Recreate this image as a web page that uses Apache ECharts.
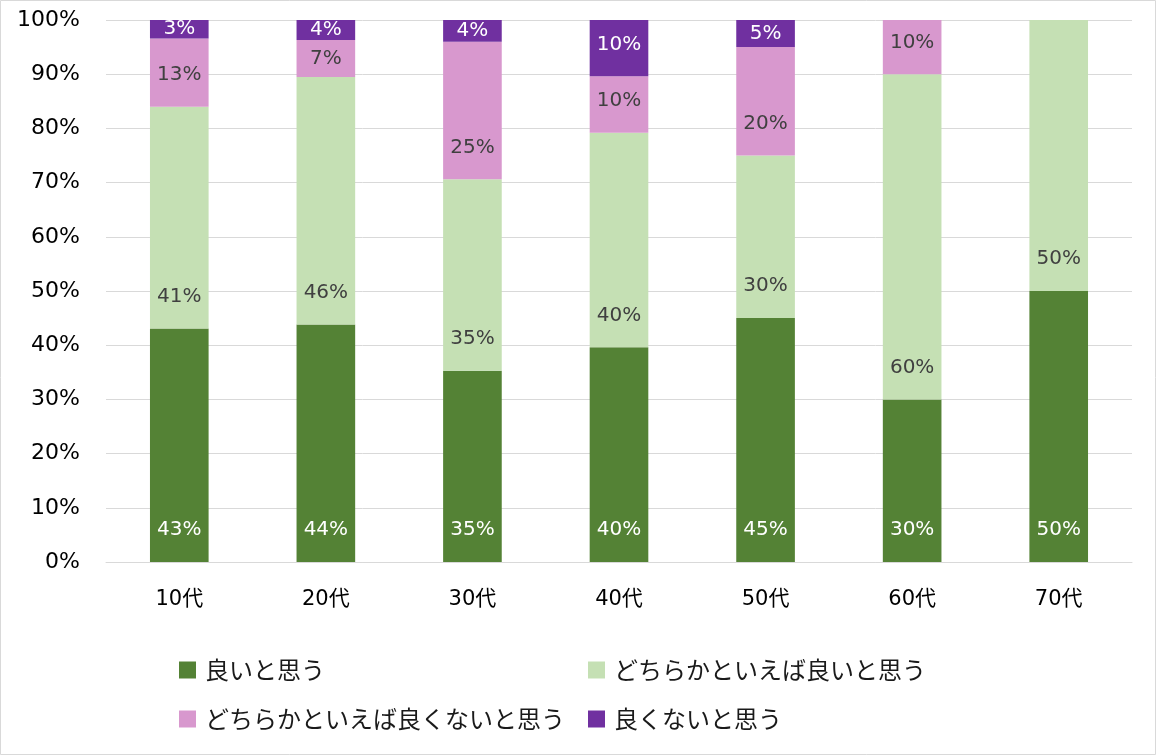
<!DOCTYPE html>
<html>
<head>
<meta charset="utf-8">
<script src="https://cdn.jsdelivr.net/npm/echarts@6/dist/echarts.min.js"></script>
<style>
html,body{margin:0;padding:0;background:#fff;}
#c{width:1156px;height:755px;}
</style>
</head>
<body>
<div id="c"></div>
<script>
// ---- data ----
const categories = ['10代', '20代', '30代', '40代', '50代', '60代', '70代'];
const seriesNames = ['良いと思う', 'どちらかといえば良いと思う', 'どちらかといえば良くないと思う', '良くないと思う'];
const good = [43.1, 43.8, 35.3, 39.6, 45, 30, 50];
const ratherGood = [40.9, 45.7, 35.3, 39.6, 30, 60, 50];
const ratherNotGood = [12.6, 6.8, 25.4, 10.4, 20, 10, 0];
const notGood = [3.4, 3.7, 4.0, 10.4, 5, 0, 0];

// ---- styles ----
const colors = ['#548235', '#C5E0B4', '#D898CE', '#7030A0'];
const labelColors = ['#ffffff', '#404040', '#404040', '#ffffff'];
const latin = '"DejaVu Sans", "Noto Sans CJK JP", sans-serif';
const cjk = '"Noto Sans CJK JP", "DejaVu Sans", sans-serif';

const gridTop = 20, gridBottom = 193;
const plotH = 755 - gridTop - gridBottom;
const pxPerUnit = plotH / 100;
const LH = 22;

function items(arr) {
  return arr.map(v => {
    const h = v * pxPerUnit;
    const c = Math.min(32, Math.max(h / 2, h - 23));
    return { value: v, label: { distance: c - LH / 2 } };
  });
}

const allData = [good, ratherGood, ratherNotGood, notGood];

const legendText = { fontFamily: cjk, fontSize: 24, color: '#1a1a1a', lineHeight: 26, padding: [0, 0, 0, 4] };

const chart = echarts.init(document.getElementById('c'), null, { renderer: 'canvas' });
chart.setOption({
  animation: false,
  backgroundColor: '#fff',
  graphic: [{
    type: 'rect',
    shape: { x: 0.5, y: 0.5, width: 1155, height: 754 },
    style: { fill: 'none', stroke: '#d9d9d9', lineWidth: 1 },
    silent: true
  }],
  grid: { left: 106, right: 24, top: gridTop, bottom: gridBottom, containLabel: false },
  legend: [
    {
      data: [seriesNames[0], seriesNames[2]],
      orient: 'vertical', left: 179, top: 657, padding: 0,
      itemWidth: 17, itemHeight: 17, itemGap: 23, icon: 'rect',
      textStyle: legendText
    },
    {
      data: [seriesNames[1], seriesNames[3]],
      orient: 'vertical', left: 588, top: 657, padding: 0,
      itemWidth: 17, itemHeight: 17, itemGap: 23, icon: 'rect',
      textStyle: legendText
    }
  ],
  xAxis: {
    type: 'category',
    data: categories,
    axisLine: { show: true, lineStyle: { color: '#d9d9d9', width: 1 } },
    axisTick: { show: false },
    axisLabel: { fontFamily: latin, fontSize: 21, color: '#000', margin: 27 }
  },
  yAxis: {
    type: 'value',
    min: 0, max: 100, interval: 10,
    axisLine: { show: false },
    axisTick: { show: false },
    splitLine: { lineStyle: { color: '#d9d9d9', width: 1 } },
    axisLabel: { fontFamily: latin, fontSize: 22, color: '#000', margin: 26, formatter: '{value}%' }
  },
  series: allData.map((arr, i) => ({
    name: seriesNames[i],
    type: 'bar',
    stack: 'total',
    barWidth: '40%',
    itemStyle: { color: colors[i] },
    label: {
      show: true,
      position: 'insideBottom',
      fontFamily: latin,
      fontSize: 20,
      lineHeight: LH,
      color: labelColors[i],
      formatter: p => (p.value > 0 ? Math.round(p.value) + '%' : '')
    },
    data: items(arr)
  }))
});
</script>
</body>
</html>
